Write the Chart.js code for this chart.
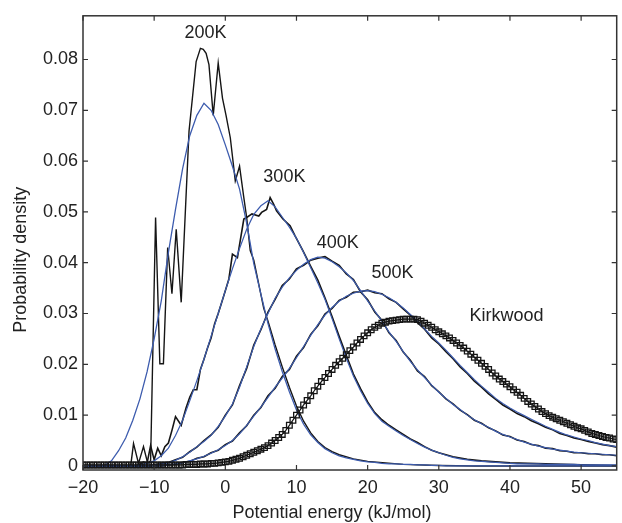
<!DOCTYPE html>
<html>
<head>
<meta charset="utf-8">
<script src="https://cdn.jsdelivr.net/npm/chart.js@4.4.1/dist/chart.umd.min.js"></script>
<style>
  html, body { margin: 0; padding: 0; background: #fff; }
  #energyChart { display: block; }
</style>
</head>
<body>
<canvas id="energyChart" width="622" height="523"></canvas>
<script>
// axis ticks
const xTicks = [-20, -10, 0, 10, 20, 30, 40, 50];
const yTicks = [0, 0.01, 0.02, 0.03, 0.04, 0.05, 0.06, 0.07, 0.08];

// smooth (blue) curves sampled every 1 kJ/mol from -20 to 55
const gridStart = -20;
const gridStep = 1;
const blue200 = [
  0, 0, 0, 0.0001, 0.0010, 0.0030, 0.0055, 0.0090, 0.0132, 0.0185,   // -20..-11
  0.0250, 0.0325, 0.0420, 0.0505, 0.0585, 0.0650, 0.0690, 0.0714, 0.0700, 0.0672, // -10..-1
  0.0632, 0.0590, 0.0545, 0.0478, 0.0398, 0.0338, 0.0280, 0.0230, 0.0186, 0.0146, // 0..9
  0.0110, 0.0082, 0.0061, 0.0046, 0.0034, 0.0026, 0.0020, 0.0016, 0.0013, 0.0010, // 10..19
  0.0008, 0.0007, 0.0005, 0.0004, 0.0004, 0.0003, 0.0003, 0.0002, 0.0002, 0.0001, // 20..29
  0.0001, 0, 0, 0, 0, 0, 0, 0, 0, 0,                                              // 30..39
  0, 0, 0, 0, 0, 0, 0, 0, 0, 0,                                                   // 40..49
  0, 0, 0, 0, 0, 0                                                                // 50..55
];
const blue300 = [
  0, 0, 0, 0, 0, 0, 0, 0, 0.0002, 0.0005,
  0.0010, 0.0020, 0.0035, 0.0060, 0.0090, 0.0128, 0.0168, 0.0210, 0.0255, 0.0300,
  0.0345, 0.0388, 0.0428, 0.0466, 0.0495, 0.0512, 0.0522, 0.0510, 0.0490, 0.0470,
  0.0448, 0.0420, 0.0390, 0.0360, 0.0328, 0.0290, 0.0250, 0.0212, 0.0177, 0.0148,
  0.0123, 0.0103, 0.0088, 0.0078, 0.0069, 0.0060, 0.0052, 0.0044, 0.0037, 0.0031,
  0.0026, 0.0021, 0.0017, 0.0014, 0.0012, 0.0010, 0.0009, 0.0008, 0.0007, 0.0006,
  0.0005, 0.0004, 0.0004, 0.0004, 0.0004, 0.0003, 0.0003, 0.0003, 0.0003, 0.0003,
  0.0002, 0.0002, 0.0002, 0.0002, 0.0002, 0.0002
];
const blue400 = [
  0, 0, 0, 0, 0, 0, 0, 0, 0, 0,
  0.0002, 0.0004, 0.0006, 0.0011, 0.0018, 0.0027, 0.0038, 0.0048, 0.0060, 0.0078,
  0.0098, 0.0122, 0.0155, 0.0195, 0.0235, 0.0270, 0.0300, 0.0330, 0.0352, 0.0370,
  0.0385, 0.0397, 0.0406, 0.0411, 0.0409, 0.0402, 0.0392, 0.0380, 0.0365, 0.0345,
  0.0325, 0.0305, 0.0285, 0.0264, 0.0245, 0.0225, 0.0206, 0.0189, 0.0174, 0.0159,
  0.0145, 0.0133, 0.0121, 0.0111, 0.0100, 0.0091, 0.0083, 0.0076, 0.0068, 0.0062,
  0.0057, 0.0052, 0.0047, 0.0043, 0.0039, 0.0036, 0.0033, 0.0031, 0.0029, 0.0027,
  0.0026, 0.0025, 0.0024, 0.0023, 0.0022, 0.0021
];
const blue500 = [
  0, 0, 0, 0, 0, 0, 0, 0, 0, 0,
  0, 0, 0.0002, 0.0004, 0.0006, 0.0010, 0.0014, 0.0019, 0.0025, 0.0032,
  0.0040, 0.0050, 0.0063, 0.0080, 0.0098, 0.0116, 0.0135, 0.0155, 0.0173, 0.0192,
  0.0213, 0.0235, 0.0257, 0.0278, 0.0297, 0.0312, 0.0324, 0.0334, 0.0340, 0.0344,
  0.0345, 0.0343, 0.0338, 0.0331, 0.0322, 0.0311, 0.0298, 0.0285, 0.0270, 0.0255,
  0.0242, 0.0228, 0.0213, 0.0198, 0.0184, 0.0170, 0.0157, 0.0145, 0.0133, 0.0123,
  0.0114, 0.0106, 0.0099, 0.0092, 0.0085, 0.0078, 0.0072, 0.0066, 0.0061, 0.0057,
  0.0053, 0.0050, 0.0046, 0.0043, 0.0040, 0.0038
];

// simulated (black) curves
const black400 = [
  0, 0, 0, 0, 0, 0, 0, 0, 0, 0,
  0.0002, 0.0005, 0.0007, 0.0012, 0.0017, 0.0028, 0.0037, 0.0050, 0.0061, 0.0076,
  0.0100, 0.0120, 0.0158, 0.0192, 0.0238, 0.0268, 0.0303, 0.0328, 0.0355, 0.0368,
  0.0388, 0.0395, 0.0405, 0.0409, 0.0412, 0.0403, 0.0395, 0.0378, 0.0367, 0.0343,
  0.0327, 0.0303, 0.0287, 0.0262, 0.0247, 0.0224, 0.0208, 0.0187, 0.0176, 0.0158,
  0.0146, 0.0132, 0.0122, 0.0110, 0.0101, 0.0090, 0.0084, 0.0075, 0.0069, 0.0061,
  0.0058, 0.0051, 0.0048, 0.0042, 0.0040, 0.0035, 0.0034, 0.0030, 0.0029, 0.0026,
  0.0026, 0.0024, 0.0024, 0.0022, 0.0022, 0.0020
];
const black500 = [
  0, 0, 0, 0, 0, 0, 0, 0, 0, 0,
  0, 0, 0.0002, 0.0003, 0.0007, 0.0009, 0.0015, 0.0018, 0.0026, 0.0031,
  0.0042, 0.0049, 0.0065, 0.0079, 0.0100, 0.0115, 0.0138, 0.0153, 0.0176, 0.0190,
  0.0216, 0.0233, 0.0259, 0.0276, 0.0299, 0.0310, 0.0326, 0.0332, 0.0342, 0.0343,
  0.0346, 0.0341, 0.0339, 0.0329, 0.0322, 0.0309, 0.0297, 0.0282, 0.0269, 0.0252,
  0.0240, 0.0225, 0.0211, 0.0195, 0.0182, 0.0167, 0.0155, 0.0142, 0.0131, 0.0120,
  0.0112, 0.0103, 0.0097, 0.0089, 0.0083, 0.0076, 0.0071, 0.0064, 0.0060, 0.0055,
  0.0052, 0.0048, 0.0045, 0.0042, 0.0040, 0.0037
];
const black300X = [
  -20, -12.5, -12, -11.5, -11, -10.5, -10, -9.5, -9, -8.5,
  -8, -7.5, -7, -6.2, -5.5, -5, -4.5, -4, -3.5, -3,
  -2.5, -2, -1.5, -1, -0.5, 0, 0.5, 1, 1.7, 2.6,
  3, 3.75, 4.7, 5.1, 5.8, 6.3, 6.8, 7.2, 8.1, 9.1,
  9.8, 10.9, 12, 13, 14, 15, 16, 17, 18, 19,
  20, 21, 22, 23, 24, 25, 26, 27, 28, 29,
  30, 32, 34, 36, 38, 40, 45, 50, 55
];
const black300Y = [
  0, 0, 0.0003, 0.0008, 0.0005, 0.0040, 0.0012, 0.0035, 0.0020, 0.0038,
  0.0045, 0.0070, 0.0097, 0.0080, 0.0115, 0.0135, 0.0150, 0.0150, 0.0190, 0.0210,
  0.0232, 0.0252, 0.0280, 0.0300, 0.0322, 0.0345, 0.0368, 0.0417, 0.0410, 0.0486,
  0.0489, 0.0496, 0.0492, 0.0499, 0.0505, 0.0528, 0.0515, 0.0502, 0.0486, 0.0473,
  0.0453, 0.0424, 0.0393, 0.0366, 0.0331, 0.0294, 0.0255, 0.0218, 0.0181, 0.0152,
  0.0126, 0.0105, 0.0091, 0.0080, 0.0071, 0.0062, 0.0053, 0.0046, 0.0038, 0.0031,
  0.0026, 0.0018, 0.0013, 0.0010, 0.0008, 0.0006, 0.0004, 0.0002, 0.0001
];
const black200X = [
  -20, -13.3, -12.9, -12.2, -11.5, -10.9, -10.5, -9.8, -9.2, -8.7,
  -8.1, -7.5, -6.9, -6.2, -5.1, -4.1, -3.5, -3.1, -2.7, -2.3,
  -1.7, -1.0, -0.4, 0.1, 0.7, 1.4, 2.0, 2.6, 3.0, 3.5,
  4.0, 5.4, 6, 7, 8, 9, 10, 11, 12, 13,
  14, 15, 16, 18, 20, 25, 30, 35, 55
];
const black200Y = [
  0, 0, 0.0044, 0.0005, 0.0038, 0.0005, 0.0010, 0.0489, 0.0201, 0.0201,
  0.0430, 0.0339, 0.0466, 0.0322, 0.0659, 0.0796, 0.0822, 0.0820, 0.0812, 0.0790,
  0.0690, 0.0793, 0.0724, 0.0690, 0.0646, 0.0561, 0.0590, 0.0528, 0.0489, 0.0424,
  0.0405, 0.0310, 0.0285, 0.0238, 0.0195, 0.0155, 0.0118, 0.0088, 0.0065, 0.0048,
  0.0036, 0.0028, 0.0022, 0.0014, 0.0009, 0.0003, 0.0001, 0, 0
];

// Kirkwood estimate, every 0.5 kJ/mol from -20 to 55
const kirkwoodStart = -20;
const kirkwoodStep = 0.5;
const kirkwood = [
  0.0002, 0.0002, 0.0002, 0.0002, 0.0002, 0.0002, 0.0002, 0.0002, 0.0002, 0.0002,
  0.0002, 0.0002, 0.0002, 0.0002, 0.0002, 0.0002, 0.0002, 0.0002, 0.0002, 0.0002,
  0.0002, 0.0002, 0.0002, 0.0002, 0.0002, 0.0002, 0.0002, 0.0002, 0.0002, 0.0003,
  0.0003, 0.0003, 0.0003, 0.0004, 0.0004, 0.0004, 0.0005, 0.0005, 0.0006, 0.0007,
  0.0008, 0.0009, 0.0011, 0.0013, 0.0015, 0.0018, 0.0021, 0.0024, 0.0027, 0.0030,
  0.0033, 0.0036, 0.0040, 0.0045, 0.0050, 0.0056, 0.0062, 0.0070, 0.0080, 0.0090,
  0.0100, 0.0110, 0.0120, 0.0129, 0.0138, 0.0148, 0.0157, 0.0166, 0.0174, 0.0182,
  0.0190, 0.0198, 0.0205, 0.0212, 0.0219, 0.0227, 0.0234, 0.0242, 0.0249, 0.0256,
  0.0262, 0.0268, 0.0273, 0.0277, 0.0281, 0.0283, 0.0285, 0.0286, 0.0287, 0.0288,
  0.0289, 0.0289, 0.0289, 0.0289, 0.0288, 0.0285, 0.0281, 0.0277, 0.0273, 0.0268,
  0.0264, 0.0260, 0.0256, 0.0252, 0.0247, 0.0242, 0.0237, 0.0232, 0.0226, 0.0220,
  0.0214, 0.0208, 0.0202, 0.0196, 0.0190, 0.0183, 0.0177, 0.0171, 0.0166, 0.0161,
  0.0156, 0.0150, 0.0145, 0.0139, 0.0133, 0.0127, 0.0122, 0.0117, 0.0112, 0.0107,
  0.0103, 0.0099, 0.0096, 0.0093, 0.0090, 0.0087, 0.0084, 0.0081, 0.0078, 0.0075,
  0.0073, 0.0070, 0.0067, 0.0064, 0.0062, 0.0060, 0.0058, 0.0056, 0.0055, 0.0053,
  0.0052
];

// curve labels: [text, energy, density]
const curveLabels = [
  ['200K', -2.8, 0.0853],
  ['300K', 8.3, 0.0569],
  ['400K', 15.8, 0.0439],
  ['500K', 23.5, 0.0379],
  ['Kirkwood', 39.5, 0.0296]
];

const BLACK = '#151515';
const BLUE = '#3d5cae';
const TEXT = '#222';
const FONT = '"Liberation Sans", Arial, sans-serif';

function onGrid(values, start, step) {
  return values.map((v, i) => ({ x: start + i * step, y: v }));
}
function pairs(xs, ys) {
  return xs.map((x, i) => ({ x, y: ys[i] }));
}

// 框線、朝內刻度、曲線標籤與軸標題
const framePlugin = {
  id: 'frame',
  afterDraw(chart) {
    const { ctx, chartArea: a, scales } = chart;
    const xs = scales.x, ys = scales.y;
    ctx.save();
    ctx.strokeStyle = '#333';
    ctx.lineWidth = 1.5;
    ctx.strokeRect(a.left, a.top, a.right - a.left, a.bottom - a.top);
    ctx.lineWidth = 1.2;
    ctx.beginPath();
    xTicks.forEach(v => {
      const px = xs.getPixelForValue(v);
      ctx.moveTo(px, a.bottom); ctx.lineTo(px, a.bottom - 5);
      ctx.moveTo(px, a.top); ctx.lineTo(px, a.top + 5);
    });
    yTicks.forEach(v => {
      const py = ys.getPixelForValue(v);
      ctx.moveTo(a.left, py); ctx.lineTo(a.left + 5, py);
      ctx.moveTo(a.right, py); ctx.lineTo(a.right - 5, py);
    });
    ctx.stroke();

    ctx.fillStyle = TEXT;
    ctx.font = '18px ' + FONT;
    ctx.textAlign = 'center';
    ctx.textBaseline = 'middle';
    curveLabels.forEach(([t, x, y]) => {
      ctx.fillText(t, xs.getPixelForValue(x), ys.getPixelForValue(y));
    });

    ctx.fillText('Potential energy (kJ/mol)', a.left + 249, chart.height - 10);
    ctx.translate(21, a.top + 244);
    ctx.rotate(-Math.PI / 2);
    ctx.fillText('Probability density', 0, 0);
    ctx.restore();
  }
};

function lineSet(data, color, width) {
  return {
    data,
    borderColor: color,
    borderWidth: width,
    pointRadius: 0,
    tension: 0,
    fill: false
  };
}

const ctx = document.getElementById('energyChart');
new Chart(ctx, {
  type: 'line',
  data: {
    datasets: [
      {
        data: onGrid(kirkwood, kirkwoodStart, kirkwoodStep),
        borderColor: BLACK,
        borderWidth: 1.2,
        pointStyle: 'rect',
        pointRadius: 4,
        pointBorderWidth: 1.3,
        pointBorderColor: BLACK,
        pointBackgroundColor: 'rgba(255,255,255,0)',
        tension: 0,
        fill: false
      },
      lineSet(onGrid(blue200, gridStart, gridStep), BLUE, 1.3),
      lineSet(onGrid(blue300, gridStart, gridStep), BLUE, 1.2),
      lineSet(onGrid(blue400, gridStart, gridStep), BLUE, 1.2),
      lineSet(onGrid(blue500, gridStart, gridStep), BLUE, 1.2),
      lineSet(pairs(black200X, black200Y), BLACK, 1.4),
      lineSet(pairs(black300X, black300Y), BLACK, 1.6),
      lineSet(onGrid(black400, gridStart, gridStep), BLACK, 1.6),
      lineSet(onGrid(black500, gridStart, gridStep), BLACK, 1.6)
    ]
  },
  options: {
    responsive: false,
    animation: false,
    devicePixelRatio: 1,
    layout: { padding: { top: 14, right: 1, left: 0, bottom: 0 } },
    plugins: {
      legend: { display: false },
      tooltip: { enabled: false }
    },
    scales: {
      x: {
        type: 'linear',
        min: -20,
        max: 55,
        grid: { display: false, drawTicks: false },
        border: { display: false },
        afterBuildTicks: s => { s.ticks = xTicks.map(v => ({ value: v })); },
        afterFit: s => { s.height = 53; },
        ticks: {
          padding: 7,
          color: TEXT,
          font: { family: FONT, size: 18 },
          callback: v => (v < 0 ? '\u2212' + Math.abs(v) : String(v))
        }
      },
      y: {
        type: 'linear',
        min: -0.0008,
        max: 0.0886,
        grid: { display: false, drawTicks: false },
        border: { display: false },
        afterBuildTicks: s => { s.ticks = yTicks.map(v => ({ value: v })); },
        afterFit: s => { s.width = 83; },
        ticks: {
          padding: 5,
          color: TEXT,
          font: { family: FONT, size: 18 },
          callback: v => (v === 0 ? '0' : v.toFixed(2))
        }
      }
    }
  },
  plugins: [framePlugin]
});
</script>
</body>
</html>
